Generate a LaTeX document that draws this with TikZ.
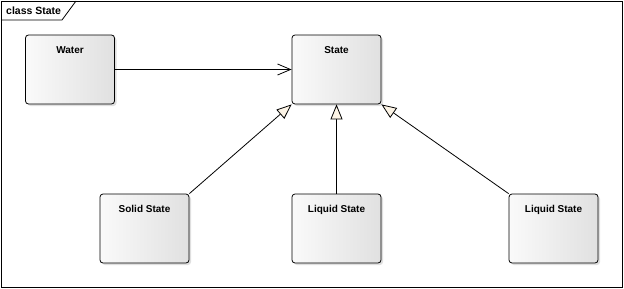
\documentclass[tikz,border=0pt]{standalone}
\usepackage{fontspec}
\setmainfont{Liberation Sans}
\usetikzlibrary{arrows.meta, shadows}

\definecolor{cream}{RGB}{252,244,230}
\tikzset{
  classbox/.style={draw, line width=0.8pt, rounded corners=3pt,
    minimum width=89pt, minimum height=69pt, inner sep=0pt,
    left color=black!2, middle color=white, right color=black!12,
    drop shadow={shadow xshift=2pt, shadow yshift=-2pt, opacity=0.25},
    label={[anchor=north, yshift=-8pt, font=\bfseries\fontsize{10}{12}\selectfont]north:#1}},
  assoc/.style={line width=0.8pt, -{Straight Barb[length=13pt, width=11pt, line width=0.8pt]}},
  inherit/.style={line width=0.8pt, -{Triangle[open, length=15pt, width=12pt, line width=0.8pt, fill=cream]}}
}

\begin{document}
\begin{tikzpicture}[x=1pt, y=-1pt]
                \useasboundingbox (0,0) rectangle (624,289);
                % frame
                \draw[line width=0.8pt] (1,1) rectangle (622,287);
                \draw[line width=0.8pt] (1,20) -- (62,20) -- (76,1);
                \node[anchor=base west, font=\bfseries\fontsize{10.5}{12}\selectfont, inner sep=0pt] (title) at (6,14) {class State};
                % classes
                \node[classbox=Water] (water) at (70,69.5) {};
                \node[classbox=State] (state) at (336.5,69.5) {};
                \node[classbox=Solid State] (solid) at (144.5,228.5) {};
                \node[classbox=Liquid State] (liquidA) at (336.5,228.5) {};
                \node[classbox=Liquid State] (liquidB) at (553.5,228.5) {};
                % relations
                \draw[assoc] (water.east) -- (state.west);
                \draw[inherit] (solid.north east) -- (state.south west);
                \draw[inherit] (liquidA.north) -- (state.south);
                \draw[inherit] (liquidB.north west) -- (state.south east);
\end{tikzpicture}
\end{document}
